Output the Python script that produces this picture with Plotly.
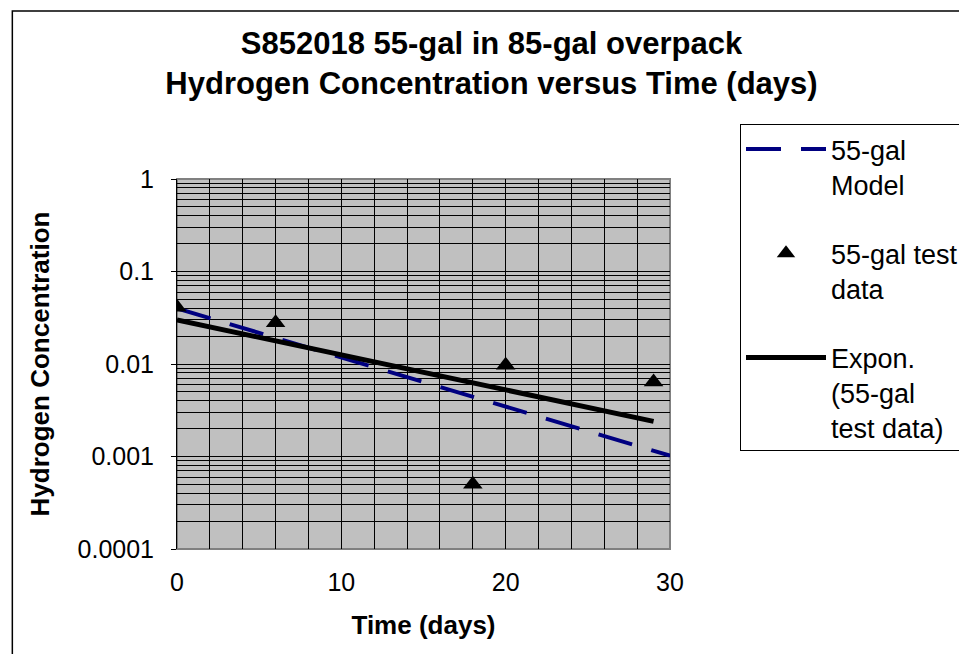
import plotly.graph_objects as go

# Data
test_days = [0, 6, 18, 20, 29]
test_h2 = [0.041, 0.028, 0.0005, 0.0097, 0.0064]

model_days = [0, 10, 20, 30]
model_h2 = [0.040, 0.0118, 0.00347, 0.00102]

trend_days = [0, 29]
trend_h2 = [0.030, 0.0024]

x_tickvals = [0, 10, 20, 30]
y_tickvals = [0.0001, 0.001, 0.01, 0.1, 1]
y_ticktext = ["0.0001", "0.001", "0.01", "0.1", "1"]

FONT = "Liberation Sans, Arial, sans-serif"

fig = go.Figure()
fig.add_trace(go.Scatter(
    x=model_days, y=model_h2, mode="lines", name="55-gal<br>Model",
    line=dict(color="#000080", width=4, dash="35px,20px"),
    legendgroup="a",
))
fig.add_trace(go.Scatter(
    x=test_days, y=test_h2, mode="markers", name="55-gal test<br>data",
    marker=dict(symbol="triangle-up", size=17, color="black"),
    legendgroup="b",
))
fig.add_trace(go.Scatter(
    x=trend_days, y=trend_h2, mode="lines", name="Expon.<br>(55-gal<br>test data)",
    line=dict(color="black", width=5),
    legendgroup="c",
))

W, H = 967, 654
L, R, T, B = 169, 663, 171, 541
pw, ph = R - L, B - T

def px2x(p):
    return (p - L) / pw

def px2y(p):
    return (B - p) / ph

fig.update_layout(
    width=W, height=H,
    margin=dict(l=L, r=W - R, t=T, b=H - B),
    paper_bgcolor="white",
    plot_bgcolor="#C0C0C0",
    font=dict(family=FONT, color="black", size=25),
    title=dict(
        text="S852018 55-gal in 85-gal overpack<br>Hydrogen Concentration versus Time (days)",
        font=dict(family=FONT, size=31, weight="bold", color="black"),
        x=0.5, xref="container", xanchor="center",
        y=0.93, yref="container", yanchor="top",
    ),
    showlegend=True,
    legend=dict(
        x=px2x(732), y=px2y(116), xref="paper", yref="paper",
        xanchor="left", yanchor="top",
        bordercolor="black", borderwidth=1, bgcolor="white",
        font=dict(family=FONT, size=27, color="black"),
        itemwidth=80, valign="top", tracegroupgap=31,
        traceorder="grouped",
    ),
    xaxis=dict(
        range=[0, 30], tickvals=x_tickvals, ticks="",
        showgrid=True, gridcolor="black", gridwidth=1,
        minor=dict(dtick=2, showgrid=True, gridcolor="black", gridwidth=1, ticks=""),
        zeroline=False, showline=False,
        ticklabelstandoff=16,
        title=dict(text="Time (days)", font=dict(family=FONT, size=26, weight="bold"), standoff=20),
    ),
    yaxis=dict(
        type="log", range=[-4, 0],
        tickvals=y_tickvals, ticktext=y_ticktext,
        ticks="outside", ticklen=5, tickcolor="black", tickwidth=1,
        showgrid=True, gridcolor="black", gridwidth=1,
        minor=dict(dtick="D1", showgrid=True, gridcolor="black", gridwidth=1, ticks=""),
        zeroline=False, showline=True, linecolor="black", linewidth=1,
        ticklabelstandoff=12,
        title=dict(text="Hydrogen Concentration", font=dict(family=FONT, size=26, weight="bold"), standoff=20),
    ),
    shapes=[
        dict(type="rect", xref="paper", yref="paper", x0=0, x1=1, y0=0, y1=1,
             line=dict(color="#808080", width=2), layer="between"),
        dict(type="rect", xref="paper", yref="paper",
             x0=px2x(4), x1=px2x(963), y0=px2y(650), y1=px2y(3),
             line=dict(color="black", width=1.5), layer="above"),
    ],
)

fig.write_html("out.html")
